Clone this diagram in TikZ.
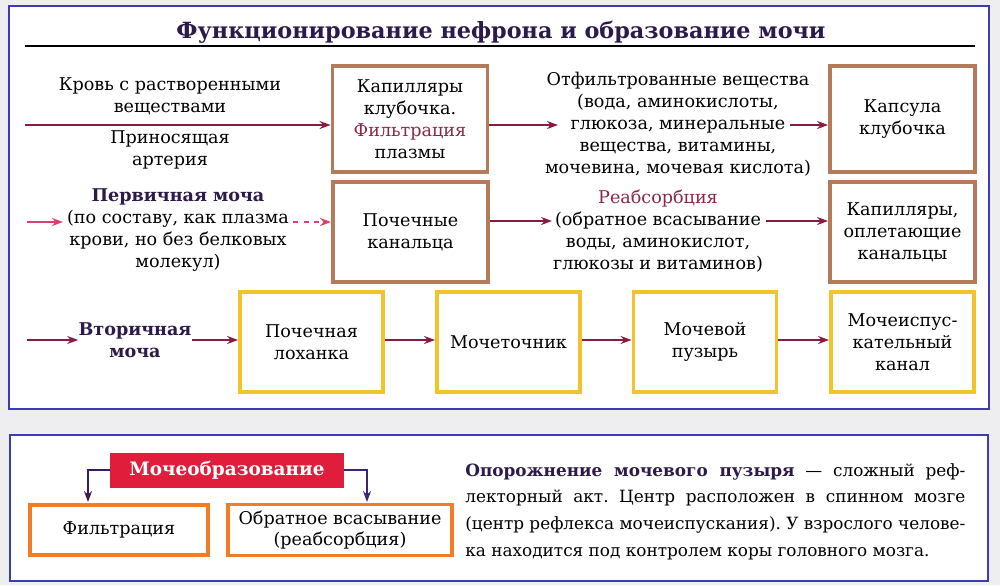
\documentclass[tikz,border=0pt]{standalone}
\usepackage{fontspec}
\setmainfont{DejaVu Serif}
\usepackage{xcolor}
\usetikzlibrary{positioning, arrows.meta}
\definecolor{bggray}{HTML}{EEEEF0}
\definecolor{frameblue}{HTML}{3C3CB8}
\definecolor{boxbrown}{HTML}{B47A5A}
\definecolor{boxyellow}{HTML}{F2C42A}
\definecolor{boxorange}{HTML}{F07D28}
\definecolor{labelred}{HTML}{E01E3C}
\definecolor{titlecol}{HTML}{2D1A4A}
\definecolor{accent}{HTML}{8C2846}
\definecolor{arrowred}{HTML}{8A1A40}
\definecolor{arrowpink}{HTML}{D8406E}
\definecolor{arrowpurple}{HTML}{3C1A5A}
\newcommand{\parline}[1]{\hbox to 100mm{#1}}

\begin{document}
\frenchspacing
\begin{tikzpicture}[x=0.2mm, y=-0.2mm, font=\fontsize{10}{12.5}\selectfont,
    panel/.style={draw=frameblue, line width=1.6pt, fill=white},
    brownbox/.style={draw=boxbrown, line width=2.2pt, fill=white, align=center},
    ybox/.style={draw=boxyellow, line width=2.2pt, fill=white, align=center,
      minimum width=28.6mm, minimum height=20mm},
    obox/.style={draw=boxorange, line width=2pt, fill=white, align=center},
    txt/.style={align=center, inner sep=0pt},
    arr/.style={draw=arrowred, line width=1pt, -{Stealth[length=2.2mm, width=1.6mm]}},
    pinkarr/.style={arr, draw=arrowpink}]

    \useasboundingbox[fill=bggray] (0,0) rectangle (1000,585);
    \draw[panel] (9,6) rectangle (989,409);
    \draw[panel] (10,435) rectangle (988,581);

    % title
    \node [txt, text=titlecol, font=\fontsize{12.7}{15}\selectfont\bfseries] (title) at (501,32)
        {Функционирование нефрона и образование мочи};
    \draw[line width=1.1pt] (25,46) -- (975,46);

    % first row
    \node [brownbox, minimum width=31mm, minimum height=21.2mm] (kap) at (410,119)
        {Капилляры\\клубочка.\\\textcolor{accent}{Фильтрация}\\плазмы};
    \node [brownbox, minimum width=29mm, minimum height=21.2mm] (caps) at (902.5,119)
        {Капсула\\клубочка};
    \node [txt] (blood) at (170,96) {Кровь с растворенными\\веществами};
    \node [txt] (artery) at (170,150) {Приносящая\\артерия};
    \node [txt] (filt) at (678,124)
        {Отфильтрованные вещества\\(вода, аминокислоты,\\глюкоза, минеральные\\вещества, витамины,\\мочевина, мочевая кислота)};
    \coordinate (in1) at (25,125);
    \coordinate (f1) at (558,125);
    \coordinate (f2) at (790,125);

    \draw[arr] (in1) -- (kap.west |- in1);
    \draw[arr] (kap.east |- in1) -- (f1);
    \draw[arr] (f2) -- (caps.west |- f2);

    % second row
    \node [brownbox, minimum width=31mm, minimum height=20mm] (kan) at (410.5,232)
        {Почечные\\канальца};
    \node [brownbox, minimum width=29mm, minimum height=20mm] (cap2) at (902.5,232)
        {Капилляры,\\оплетающие\\канальцы};
    \node [txt] (prim) at (178,230)
        {\textbf{\textcolor{titlecol}{Первичная моча}}\\(по составу, как плазма\\крови, но без белковых\\молекул)};
    \node [txt] (reab) at (658,231)
        {\textcolor{accent}{Реабсорбция}\\(обратное всасывание\\воды, аминокислот,\\глюкозы и витаминов)};
    \coordinate (in2) at (27,222);
    \coordinate (p1) at (63,222);
    \coordinate (p2) at (293,222);
    \coordinate (r1) at (552,221);
    \coordinate (r2) at (766,221);

    \draw[pinkarr] (in2) -- (p1);
    \draw[pinkarr, dashed] (p2) -- (kan.west |- p2);
    \draw[arr] (kan.east |- r1) -- (r1);
    \draw[arr] (r2) -- (cap2.west |- r2);

    % third row
    \node [txt, text=titlecol, font=\fontsize{10}{12.5}\selectfont\bfseries] (sec) at (135,340)
        {Вторичная\\моча};
    \node [ybox] (loh) at (311.5,342) {Почечная\\лоханка};
    \node [ybox] (mt) at (508.5,342) {Мочеточник};
    \node [ybox] (mp) at (705,342) {Мочевой\\пузырь};
    \node [ybox] (mk) at (902.5,342) {Мочеиспус-\\кательный\\канал};
    \coordinate (in3) at (27,340);

    \draw[arr] (in3) -- (sec.west |- in3);
    \draw[arr] (sec.east |- in3) -- (loh.west |- in3);
    \draw[arr] (loh.east |- in3) -- (mt.west |- in3);
    \draw[arr] (mt.east |- in3) -- (mp.west |- in3);
    \draw[arr] (mp.east |- in3) -- (mk.west |- in3);

    % bottom panel
    \node [fill=labelred, text=white, font=\fontsize{10.5}{12.5}\selectfont\bfseries,
        minimum width=46.6mm, minimum height=7mm] (mo) at (227,470) {Мочеобразование};
    \node [obox, minimum width=35.6mm, minimum height=10mm] (fil) at (119,530) {Фильтрация};
    \node [obox, minimum width=44.8mm, minimum height=10mm] (obr) at (340,530)
        {Обратное всасывание\\(реабсорбция)};
    \coordinate (fa) at (88,502);
    \coordinate (oa) at (367,502);
    \draw[arr, draw=arrowpurple, line width=0.8pt] (mo.west) -| (fa);
    \draw[arr, draw=arrowpurple!70!frameblue, line width=0.8pt] (mo.east) -| (oa);

    \node [inner sep=0pt, anchor=north west, align=left,
        font=\fontsize{9.6}{15.2}\selectfont] (para) at (465,463)
        {\parline{\textbf{\textcolor{titlecol}{Опорожнение мочевого пузыря}} — сложный реф-}\\
        \parline{лекторный акт. Центр расположен в спинном мозге}\\
        \parline{(центр рефлекса мочеиспускания). У взрослого челове-}\\
        ка находится под контролем коры головного мозга.};
\end{tikzpicture}
\end{document}
